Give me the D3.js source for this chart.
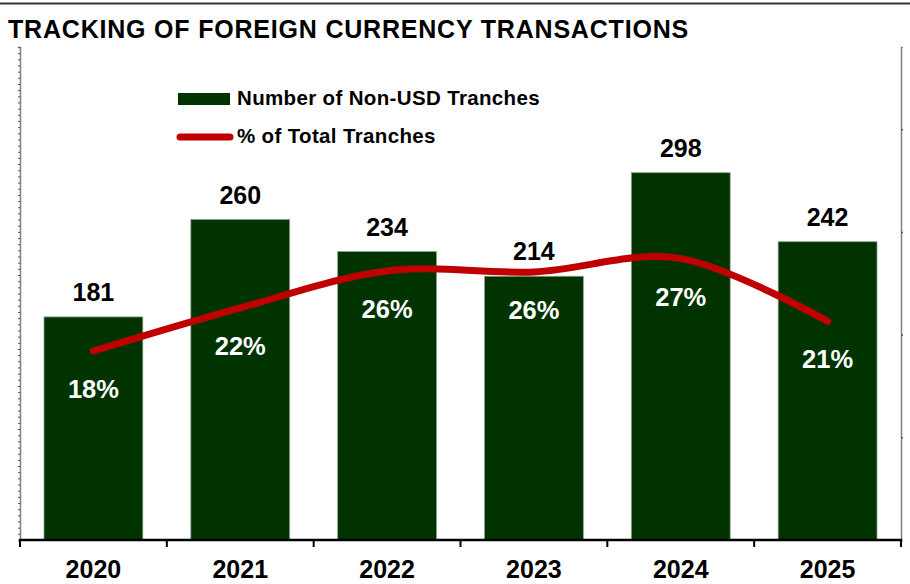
<!DOCTYPE html>
<html>
<head>
<meta charset="utf-8">
<script src="https://cdn.jsdelivr.net/npm/d3@7"></script>
<style>
  html, body { margin: 0; padding: 0; background: #fff; }
  svg { display: block; font-family: "Liberation Sans", Arial, sans-serif; }
</style>
</head>
<body>
<svg id="chart" width="910" height="584"></svg>
<script>
const years = ["2020", "2021", "2022", "2023", "2024", "2025"];
const tranches = [181, 260, 234, 214, 298, 242];
const shares = [0.184, 0.226, 0.262, 0.261, 0.274, 0.213];
const shareLabels = ["18%", "22%", "26%", "26%", "27%", "21%"];
const legendLabels = ["Number of Non-USD Tranches", "% of Total Tranches"];
const titleText = "TRACKING OF FOREIGN CURRENCY TRANSACTIONS";

(function () {
const svg = d3.select("#chart");
const W = 910, H = 584;
const mLeft = 20, mRight = 901, mTop = 47, mBottom = 540;

const x = d3.scaleBand().domain(years).range([mLeft, mRight]).paddingInner(0.327).paddingOuter(0.1635);
const yL = d3.scaleLinear().domain([0, 400]).range([mBottom, mTop]);
const yR = d3.scaleLinear().domain([0, 0.48]).range([mBottom, mTop]);

// top border
svg.append("line").attr("x1", 0).attr("x2", W).attr("y1", 3.5).attr("y2", 3.5)
  .attr("stroke", "#333").attr("stroke-width", 2);

// title
svg.append("text").attr("x", 8).attr("y", 38)
  .attr("font-size", 25).attr("font-weight", "bold").attr("fill", "#000")
  .attr("letter-spacing", 0.8)
  .text(titleText);

// left axis
const gL = svg.append("g").attr("transform", `translate(${mLeft},0)`)
  .call(d3.axisLeft(yL).tickValues(d3.range(0, 401, 5)).tickSize(2).tickFormat(""));
gL.select(".domain").attr("stroke", "#7f7f7f").attr("stroke-width", 1.5);
gL.selectAll(".tick line").attr("stroke", "#555").attr("stroke-width", 1);

// right axis
const gR = svg.append("g").attr("transform", `translate(${mRight},0)`)
  .call(d3.axisRight(yR).tickValues([0.1, 0.2, 0.3, 0.4]).tickSize(2).tickFormat(""));
gR.select(".domain").attr("stroke", "#7f7f7f").attr("stroke-width", 1.5);
gR.selectAll(".tick line").attr("stroke", "#555").attr("stroke-width", 1.5);

// bars
svg.append("g").selectAll("rect").data(years).join("rect")
  .attr("x", d => x(d))
  .attr("y", (d, i) => yL(tranches[i]))
  .attr("width", x.bandwidth())
  .attr("height", (d, i) => mBottom - yL(tranches[i]))
  .attr("fill", "#003300")
  .attr("stroke", "#8aa08a").attr("stroke-width", 0.8);

// bottom axis
svg.append("line").attr("x1", mLeft - 1).attr("x2", mRight + 1).attr("y1", mBottom).attr("y2", mBottom)
  .attr("stroke", "#000").attr("stroke-width", 2.5);
const bounds = years.map(d => x(d) - x.step() * x.paddingInner() / 2).concat([mRight]);
bounds[0] = mLeft;
svg.append("g").selectAll("line").data(bounds).join("line")
  .attr("x1", d => d).attr("x2", d => d).attr("y1", mBottom).attr("y2", mBottom + 7)
  .attr("stroke", "#000").attr("stroke-width", 2);
svg.append("g").selectAll("text").data(years).join("text")
  .attr("x", d => x(d) + x.bandwidth() / 2).attr("y", 578)
  .attr("text-anchor", "middle").attr("font-size", 25).attr("font-weight", "bold")
  .text(d => d);

// line
const pts = years.map((d, i) => [x(d) + x.bandwidth() / 2, yR(shares[i])]);
svg.append("path").datum(pts)
  .attr("d", d3.line().curve(d3.curveCardinal.tension(0)))
  .attr("fill", "none").attr("stroke", "#C00000").attr("stroke-width", 7)
  .attr("stroke-linecap", "round").attr("stroke-linejoin", "round");

// bar value labels
svg.append("g").selectAll("text").data(years).join("text")
  .attr("x", d => x(d) + x.bandwidth() / 2)
  .attr("y", (d, i) => yL(tranches[i]) - 16)
  .attr("text-anchor", "middle").attr("font-size", 25).attr("font-weight", "bold").attr("fill", "#000")
  .text((d, i) => tranches[i]);

// percent labels
svg.append("g").selectAll("text").data(years).join("text")
  .attr("x", d => x(d) + x.bandwidth() / 2)
  .attr("y", (d, i) => yR(shares[i]) + 47)
  .attr("text-anchor", "middle").attr("font-size", 25.5).attr("font-weight", "bold").attr("fill", "#fff")
  .text((d, i) => shareLabels[i]);

// legend
const lg = svg.append("g");
lg.append("rect").attr("x", 178).attr("y", 93).attr("width", 52).attr("height", 12).attr("fill", "#003300");
lg.append("text").attr("x", 237).attr("y", 105).attr("font-size", 20.5).attr("font-weight", "bold")
  .attr("letter-spacing", 0.35).text(legendLabels[0]);
lg.append("line").attr("x1", 180).attr("x2", 230).attr("y1", 137).attr("y2", 137)
  .attr("stroke", "#C00000").attr("stroke-width", 7).attr("stroke-linecap", "round");
lg.append("text").attr("x", 237).attr("y", 143).attr("font-size", 20.5).attr("font-weight", "bold")
  .attr("letter-spacing", 0.35).text(legendLabels[1]);
})();
</script>
</body>
</html>
